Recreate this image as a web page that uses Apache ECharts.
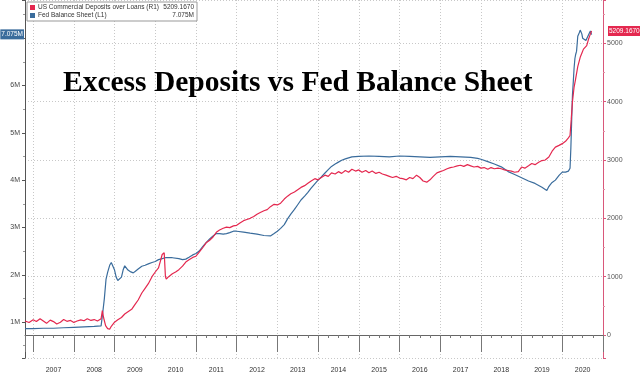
<!DOCTYPE html>
<html><head><meta charset="utf-8">
<script src="https://cdn.jsdelivr.net/npm/echarts@6/dist/echarts.min.js"></script>
<style>html,body{margin:0;padding:0;background:#fff}#c{width:640px;height:375px}</style>
</head><body><div id="c"></div>
<script>
const titleText = "Excess Deposits vs Fed Balance Sheet";
const depName = "US Commercial Deposits over Loans (R1)";
const fedName = "Fed Balance Sheet (L1)";
const depLast = "5209.1670";
const fedLast = "7.075M";
const depLastValue = 5209.167;
const fedLastValue = 7.075;

// Deposits minus loans (billions), x = year fraction
const depX = [2006.80,2006.90,2007.00,2007.08,2007.17,2007.25,2007.33,2007.42,2007.50,2007.58,2007.67,2007.75,2007.83,2007.92,
2008.00,2008.08,2008.17,2008.25,2008.33,2008.42,2008.50,2008.58,2008.67,2008.70,2008.73,2008.78,2008.83,2008.88,2008.92,
2009.00,2009.08,2009.17,2009.25,2009.33,2009.42,2009.50,2009.58,2009.67,2009.75,2009.83,2009.92,
2010.00,2010.08,2010.12,2010.17,2010.22,2010.25,2010.27,2010.33,2010.42,2010.50,2010.58,2010.67,2010.75,2010.83,2010.92,
2011.00,2011.08,2011.17,2011.25,2011.33,2011.42,2011.50,2011.58,2011.67,2011.75,2011.83,2011.92,
2012.00,2012.08,2012.17,2012.25,2012.33,2012.42,2012.50,2012.58,2012.67,2012.75,2012.83,2012.92,
2013.00,2013.08,2013.17,2013.25,2013.33,2013.42,2013.50,2013.58,2013.67,2013.75,2013.83,2013.92,
2014.00,2014.08,2014.17,2014.25,2014.33,2014.42,2014.50,2014.58,2014.67,2014.75,2014.83,2014.92,
2015.00,2015.08,2015.17,2015.25,2015.33,2015.42,2015.50,2015.58,2015.67,2015.75,2015.83,2015.92,
2016.00,2016.08,2016.17,2016.25,2016.33,2016.42,2016.50,2016.58,2016.67,2016.75,2016.83,2016.92,
2017.00,2017.08,2017.17,2017.25,2017.33,2017.42,2017.50,2017.58,2017.67,2017.75,2017.83,2017.92,
2018.00,2018.08,2018.17,2018.25,2018.33,2018.42,2018.50,2018.58,2018.67,2018.75,2018.83,2018.92,
2019.00,2019.08,2019.17,2019.25,2019.33,2019.42,2019.50,2019.58,2019.67,2019.75,2019.83,2019.92,
2020.00,2020.08,2020.15,2020.19,2020.22,2020.25,2020.29,2020.33,2020.38,2020.44,2020.48,2020.52,2020.56,2020.60,2020.64,2020.68,2020.72];
const depY = [240,215,260,230,280,240,200,255,230,190,220,265,235,250,
215,240,260,245,280,250,265,240,280,420,300,160,110,100,150,
220,260,300,360,400,440,520,600,720,800,880,1000,
1080,1150,1250,1380,1410,1000,960,1000,1050,1080,1120,1180,1250,1290,1330,
1350,1420,1500,1580,1620,1680,1760,1800,1830,1850,1840,1870,
1880,1920,1960,1980,2000,2030,2070,2100,2130,2150,2200,2240,
2230,2260,2330,2380,2420,2450,2490,2530,2560,2600,2640,2680,
2660,2700,2740,2720,2780,2760,2800,2770,2820,2790,2840,2810,
2830,2790,2820,2780,2810,2770,2790,2760,2740,2720,2700,2720,
2690,2680,2660,2700,2680,2740,2700,2640,2620,2660,2720,2780,
2800,2820,2850,2870,2880,2900,2910,2890,2920,2900,2880,2890,
2860,2870,2840,2870,2850,2860,2850,2830,2820,2810,2790,2800,
2880,2860,2900,2940,2920,2960,2990,3000,3050,3150,3220,3250,
3280,3320,3380,3420,3700,4000,4250,4400,4600,4760,4830,4900,4870,4960,5060,5140,5209.167];

// Fed balance sheet (shown in M units on the left axis)
const fedX = [2006.80,2007.00,2007.25,2007.50,2007.75,2008.00,2008.25,2008.50,2008.67,2008.71,2008.75,2008.79,2008.83,2008.88,2008.92,2008.96,
2009.00,2009.04,2009.08,2009.12,2009.17,2009.21,2009.25,2009.29,2009.33,2009.40,2009.46,2009.52,2009.58,2009.67,2009.75,2009.83,2009.92,
2010.00,2010.08,2010.17,2010.25,2010.42,2010.58,2010.67,2010.75,2010.83,2010.92,
2011.00,2011.08,2011.17,2011.25,2011.33,2011.42,2011.50,2011.58,2011.67,2011.75,2011.83,2011.92,
2012.00,2012.17,2012.33,2012.50,2012.67,2012.83,2012.92,
2013.00,2013.08,2013.17,2013.25,2013.33,2013.42,2013.50,2013.58,2013.67,2013.75,2013.83,2013.92,
2014.00,2014.08,2014.17,2014.25,2014.33,2014.42,2014.50,2014.58,2014.67,2014.75,2014.83,
2015.00,2015.25,2015.50,2015.75,2016.00,2016.25,2016.50,2016.75,2017.00,2017.25,2017.50,2017.75,2017.92,
2018.00,2018.17,2018.33,2018.50,2018.67,2018.83,2019.00,2019.17,2019.33,2019.50,2019.62,2019.66,2019.70,2019.75,2019.83,2019.92,
2020.00,2020.08,2020.15,2020.19,2020.21,2020.23,2020.25,2020.27,2020.29,2020.31,2020.33,2020.35,2020.37,2020.38,2020.42,2020.44,2020.46,2020.48,2020.50,2020.54,2020.58,2020.62,2020.66,2020.69,2020.72];
const fedY = [0.86,0.86,0.87,0.87,0.88,0.89,0.90,0.91,0.92,1.2,1.5,1.9,2.05,2.2,2.26,2.24,
2.1,1.95,1.88,1.86,1.95,2.1,2.19,2.15,2.1,2.06,2.04,2.08,2.12,2.18,2.2,2.23,2.26,
2.28,2.32,2.34,2.36,2.36,2.34,2.32,2.33,2.37,2.42,
2.45,2.5,2.6,2.68,2.75,2.82,2.87,2.87,2.86,2.87,2.89,2.92,
2.92,2.90,2.88,2.86,2.83,2.82,2.87,
2.92,2.98,3.06,3.18,3.28,3.38,3.48,3.58,3.66,3.74,3.83,3.92,
4.0,4.07,4.15,4.22,4.29,4.34,4.38,4.42,4.45,4.47,4.49,
4.50,4.51,4.50,4.49,4.51,4.50,4.49,4.48,4.49,4.50,4.49,4.48,4.46,
4.44,4.39,4.34,4.28,4.18,4.12,4.05,3.98,3.93,3.85,3.78,3.85,3.90,3.95,4.0,4.10,
4.17,4.17,4.19,4.25,4.67,5.25,5.81,6.08,6.37,6.57,6.66,6.72,6.93,7.04,7.12,7.17,7.15,7.09,7.00,6.96,6.95,6.99,7.10,7.15,7.075];

const depData = depX.map((x, i) => [x, depY[i]]);
const fedData = fedX.map((x, i) => [x, fedY[i]]);

const RED = '#e4284f', BLUE = '#3a6c9c';
const FONT = 'Liberation Sans';
const chart = echarts.init(document.getElementById('c'), null, {renderer: 'canvas'});
chart.setOption({
  animation: false,
  title: {
    text: titleText, left: 58, top: 63,
    textStyle: {fontFamily: 'Liberation Serif', fontWeight: 'bold', fontSize: 29.5, color: '#000', lineHeight: 30}
  },
  legend: {
    orient: 'vertical', left: 27, top: 2, itemGap: 1, itemWidth: 5, itemHeight: 5,
    padding: [2, 3, 2, 3], backgroundColor: '#fff', borderColor: '#999', borderWidth: 1,
    data: [{name: depName, icon: 'rect'}, {name: fedName, icon: 'rect'}],
    formatter: n => `{n|${n}}{v|${n === depName ? depLast : fedLast}}`,
    textStyle: {fontFamily: FONT, fontSize: 6.5, color: '#333', padding: [0,0,0,-2],
      rich: {n: {width: 126, fontSize: 6.5, fontFamily: FONT, color: '#333'}, v: {width: 30, align: 'right', fontSize: 6.5, fontFamily: FONT, color: '#333'}}}
  },
  grid: {left: 25, right: 37, top: 0, bottom: 17, containLabel: false},
  xAxis: {
    type: 'value', min: 2006.8, max: 2021, splitNumber: 14,
    axisLine: {lineStyle: {color: '#666', width: 1}},
    axisTick: {show: true, length: 17, lineStyle: {color: '#777'}},
    minorTick: {show: true, splitNumber: 4, length: 3, lineStyle: {color: '#777'}},
    splitLine: {show: true, lineStyle: {color: '#c8c8c8', type: [1, 2]}},
    axisLabel: {
      margin: 9, fontSize: 7, fontFamily: FONT, color: '#333', align: 'center', padding: [0, 0, 0, 40.7],
      showMinLabel: true, showMaxLabel: false,
      formatter: v => (Math.abs(v - Math.round(v)) < 1e-6 && v < 2021) ? String(Math.round(v)) : ''
    }
  },
  yAxis: [
    {
      type: 'value', position: 'left', min: 0.241, max: 7.806, splitNumber: 7,
      axisLine: {show: true, lineStyle: {color: '#555'}},
      axisTick: {show: true, length: 3, lineStyle: {color: '#555'}},
      minorTick: {show: true, splitNumber: 2, length: 2, lineStyle: {color: '#999'}},
      splitLine: {show: false},
      axisLabel: {margin: 5, fontSize: 7, fontFamily: FONT, color: '#444', showMinLabel: false, showMaxLabel: false,
        formatter: v => (Math.abs(v - Math.round(v)) < 1e-6 && v < 6.5) ? Math.round(v) + 'M' : ''}
    },
    {
      type: 'value', position: 'right', min: -394, max: 5742, splitNumber: 6,
      axisLine: {show: true, lineStyle: {color: '#d9577a'}},
      axisTick: {show: true, length: 3, lineStyle: {color: '#d9577a'}},
      minorTick: {show: true, splitNumber: 2, length: 2, lineStyle: {color: '#e090a5'}},
      splitLine: {show: true, lineStyle: {color: '#c8c8c8', type: [1, 2]}},
      axisLabel: {margin: 4, fontSize: 7, fontFamily: FONT, color: '#555', showMinLabel: false, showMaxLabel: false,
        formatter: v => (v >= 0 && v <= 5000 && v % 1000 === 0) ? String(v) : ''}
    }
  ],
  series: [
    {
      name: fedName, type: 'line', yAxisIndex: 0, data: fedData, showSymbol: false, z: 2,
      lineStyle: {color: BLUE, width: 1.2}, itemStyle: {color: BLUE},
      markLine: {silent: true, symbol: ['none', 'none'], lineStyle: {color: 'rgba(0,0,0,0)', width: 0.01, type: 'solid'},
        label: {show: true, position: 'start', distance: 1, formatter: fedLast, color: '#fff', backgroundColor: BLUE,
          fontSize: 6.5, fontFamily: FONT, padding: [2, 1, 1, 1]},
        data: [{yAxis: fedLastValue}]}
    },
    {
      name: depName, type: 'line', yAxisIndex: 1, data: depData, showSymbol: false, z: 3,
      lineStyle: {color: RED, width: 1.2}, itemStyle: {color: RED},
      markLine: {silent: true, symbol: ['none', 'none'], lineStyle: {color: 'rgba(0,0,0,0)', width: 0.01, type: 'solid'},
        label: {show: true, position: 'end', distance: 5, formatter: depLast, color: '#fff', backgroundColor: RED,
          fontSize: 6.5, fontFamily: FONT, padding: [2, 1, 1, 1]},
        data: [{yAxis: depLastValue}]}
    }
  ]
});
</script></body></html>
